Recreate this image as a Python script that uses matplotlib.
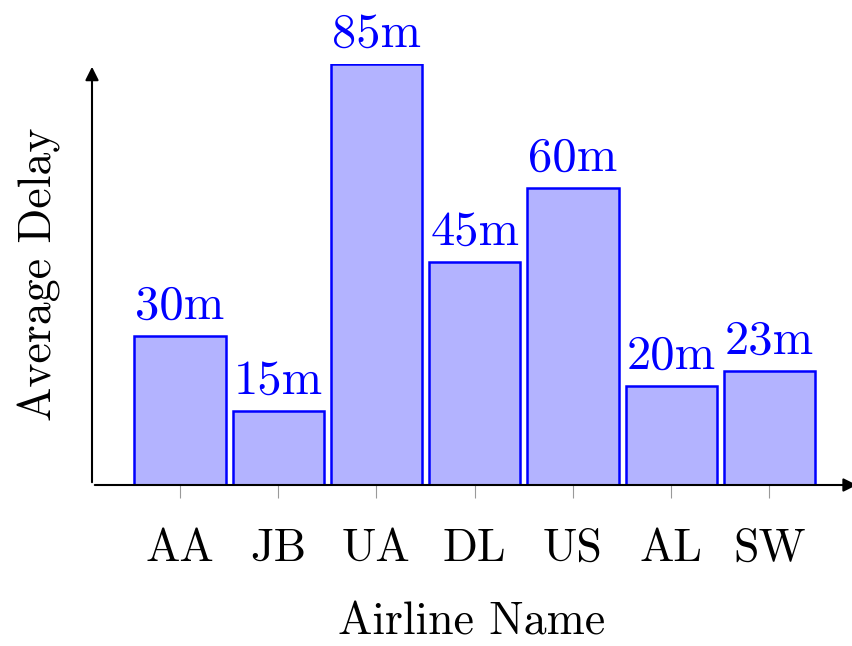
import matplotlib
matplotlib.use("Agg")
import matplotlib.pyplot as plt

airlines = ["AA", "JB", "UA", "DL", "US", "AL", "SW"]
delays = [30, 15, 85, 45, 60, 20, 23]
labels = ["30m", "15m", "85m", "45m", "60m", "20m", "23m"]

plt.rcParams["font.family"] = "cmr10"
plt.rcParams["axes.formatter.use_mathtext"] = True
plt.rcParams["mathtext.fontset"] = "cm"

fig = plt.figure(figsize=(8.52, 6.46), dpi=100)
ax = fig.add_axes([92 / 852, (646 - 485) / 646, 760 / 852, 421 / 646])

x = list(range(len(airlines)))
bars = ax.bar(x, delays, width=0.93, color="#b3b3ff", edgecolor="#0000ff", linewidth=1.8)

for b, lab in zip(bars, labels):
    ax.annotate(lab, (b.get_x() + b.get_width() / 2, b.get_height()),
                xytext=(0, 12.5), textcoords="offset points",
                ha="center", va="baseline", color="#0000ff", fontsize=35)

ax.set_xlim(-0.895, 6.84)
ax.set_ylim(0, 85)

for s in ax.spines.values():
    s.set_visible(False)

# axis arrows
ax.annotate("", xy=(1.01, 0), xytext=(0, 0), xycoords="axes fraction",
            arrowprops=dict(arrowstyle="-|>", color="black", lw=1.5, mutation_scale=20),
            annotation_clip=False)
ax.annotate("", xy=(0, 1.0), xytext=(0, 0), xycoords="axes fraction",
            arrowprops=dict(arrowstyle="-|>", color="black", lw=1.5, mutation_scale=20),
            annotation_clip=False)

ax.set_xticks(x)
ax.set_xticklabels(airlines, fontsize=33)
ax.tick_params(axis="x", length=9, width=0.8, color="#999999", pad=22)
ax.set_yticks([])

ax.set_xlabel("Airline Name", fontsize=33, labelpad=23)
ax.set_ylabel("Average Delay", fontsize=33, labelpad=22)

fig.savefig("out.png", dpi=100)
